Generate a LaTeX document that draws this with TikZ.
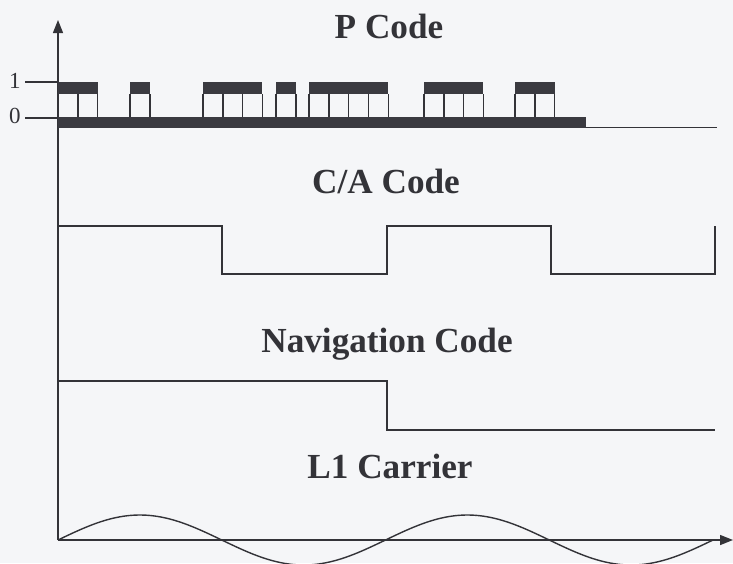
\documentclass[tikz,border=0pt]{standalone}
\usepackage{fontspec}
\setmainfont{Liberation Serif}
\usetikzlibrary{arrows.meta}
\definecolor{inkgray}{HTML}{333338}
\definecolor{bargray}{HTML}{3A3A40}
\definecolor{paper}{HTML}{F5F6F8}

\begin{document}
\begin{tikzpicture}[
    x=0.5pt, y=-0.5pt,
    trace/.style={draw=inkgray, line width=0.7pt},
    axisline/.style={draw=inkgray, line width=0.7pt, -{Triangle[width=5pt, length=6.5pt]}},
    title/.style={font=\fontsize{17.6}{20}\selectfont\bfseries, text=inkgray, anchor=base, inner sep=0pt},
    level/.style={font=\fontsize{11.5}{13}\selectfont, text=inkgray, anchor=east, inner sep=1pt},
]

% Page
\fill[paper] (0,0) rectangle (733,563);
\useasboundingbox (0,0) rectangle (733,563);
\clip (0,0) rectangle (733,563);

% Axes
\draw[axisline] (58,540) -- (58,20);
\draw[axisline] (58,540) -- (733,540);

% Titles
\node[title] (pcode) at (389,38) {P Code};
\node[title] (cacode) at (386,193) {C/A Code};
\node[title] (navcode) at (387,352) {Navigation Code};
\node[title] (carrier) at (390,478) {L1 Carrier};

% P code levels
\draw[trace] (25,82) -- (58,82);
\draw[trace] (25,118) -- (58,118);
\node[level] (one) at (23,81) {1};
\node[level] (zero) at (23,116) {0};

% P code chips
\fill[bargray] (58,117) rectangle (586,128);
\draw[trace] (586,127.5) -- (717,127.5);
\foreach \start/\n in {58/2, 130/1, 203/3, 276/1, 309/4, 424/3, 515/2} {
    \fill[bargray] (\start,82) rectangle ({\start+19.8*\n},94);
    \foreach \k in {0,...,\n}
        \draw[trace] ({\start+19.8*\k},94) -- ({\start+19.8*\k},117);
}

% C/A code
\draw[trace] (58,226) -- (222,226) -- (222,274) -- (387,274) -- (387,226)
    -- (551,226) -- (551,274) -- (715,274) -- (715,226);

% Navigation code
\draw[trace] (58,381) -- (387,381) -- (387,430) -- (715,430);

% L1 carrier (two periods)
\draw[trace] plot[domain=58:713, samples=120, smooth] (\x, {540-25*sin(1.0992*(\x-58))});

\end{tikzpicture}
\end{document}
